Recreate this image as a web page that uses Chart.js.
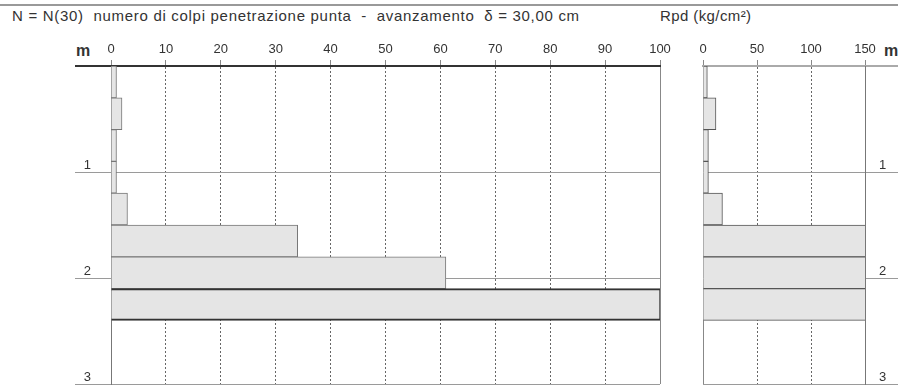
<!DOCTYPE html>
<html>
<head>
<meta charset="utf-8">
<script src="https://cdn.jsdelivr.net/npm/chart.js@4"></script>
<style>
  body { margin: 0; background: #fff; font-family: "Liberation Sans", Arial, sans-serif; color: #333; }
  #wrap { position: relative; width: 898px; height: 387px; overflow: hidden; }
  .lbl { position: absolute; white-space: nowrap; }
  #topRule { position: absolute; left: 0; top: 4px; width: 898px; border-top: 2px solid #999; }
  #chartN { position: absolute; left: 0; top: 0; }
  #chartR { position: absolute; left: 680px; top: 0; }
</style>
</head>
<body>
<div id="wrap">
  <div id="topRule"></div>
  <div class="lbl" style="left:12px; top:7px; font-size:15px; letter-spacing:0.7px;">N = N(30)&nbsp; numero di colpi penetrazione punta&nbsp; -&nbsp; avanzamento&nbsp; δ = 30,00 cm</div>
  <div class="lbl" style="left:660px; top:7px; font-size:15px; letter-spacing:0.4px;">Rpd (kg/cm²)</div>
  <div class="lbl" style="left:76px; top:42px; font-size:16px; font-weight:bold;">m</div>
  <div class="lbl" style="left:884px; top:42px; font-size:16px; font-weight:bold;">m</div>
  <canvas id="chartN" width="680" height="387" style="width:680px;height:387px"></canvas>
  <canvas id="chartR" width="218" height="387" style="width:218px;height:387px"></canvas>
</div>
<script>
// depth steps of 30 cm, top of each step in metres
const depthSteps = ['0,0', '0,3', '0,6', '0,9', '1,2', '1,5', '1,8', '2,1', '2,4', '2,7'];
// number of blows N(30) for each step
const blowsN = [1, 2, 1, 1, 3, 34, 61, 100, null, null];
// dynamic point resistance Rpd (kg/cm2) for each step
const rpdValues = [4, 12, 5, 5, 18, 200, 350, 560, null, null];

const nMax = 100;
const rpdMax = 150;
const depthMax = 3;

Chart.defaults.font.family = '"Liberation Sans", Arial, sans-serif';
Chart.defaults.font.size = 13;
Chart.defaults.color = '#333';

function depthAxis(position, width, tickLen, pad, topColor) {
  return {
    type: 'linear',
    position: position,
    min: 0,
    max: depthMax,
    reverse: true,
    offset: false,
    afterFit: s => { s.width = width; },
    ticks: {
      stepSize: 1,
      padding: pad,
      labelOffset: -7,
      callback: v => v === 0 ? '' : v
    },
    grid: {
      offset: false,
      tickLength: tickLen,
      color: ctx => ctx.tick && ctx.tick.value === 0 ? topColor : '#9a9a9a',
      lineWidth: ctx => ctx.tick && ctx.tick.value === 0 ? 2 : 1
    },
    border: { display: true, color: '#777', width: 1 }
  };
}

function valueAxis(max, step, topColor) {
  const edge = v => v === 0 || v === max;
  return {
    type: 'linear',
    position: 'top',
    min: 0,
    max: max,
    afterFit: s => { s.height = 66; },
    ticks: { stepSize: step, padding: 3, maxRotation: 0, autoSkip: false },
    grid: {
      tickLength: 6,
      color: ctx => ctx.tick && edge(ctx.tick.value) ? '#888' : '#666',
      tickColor: '#888'
    },
    border: {
      display: true, color: topColor, width: 2,
      dash: ctx => ctx.tick && !edge(ctx.tick.value) ? [2, 2] : []
    }
  };
}

function barStyle(limit, lineColor) {
  return {
    backgroundColor: '#e5e5e5',
    borderColor: ctx => (ctx.raw >= limit ? '#333' : lineColor),
    borderWidth: ctx => (ctx.raw >= limit ? { top: 2, bottom: 2, right: 1, left: 0 } : 1),
    borderSkipped: 'start',
    categoryPercentage: 1,
    barPercentage: 1,
    clip: 0
  };
}

new Chart(document.getElementById('chartN'), {
  type: 'bar',
  data: {
    labels: depthSteps,
    datasets: [Object.assign({ label: 'N(30)', data: blowsN }, barStyle(nMax, '#777'))]
  },
  options: {
    indexAxis: 'y',
    responsive: false,
    animation: false,
    layout: { padding: { left: 0, right: 20, top: 0, bottom: 3 } },
    plugins: { legend: { display: false }, tooltip: { enabled: false } },
    scales: {
      x: valueAxis(nMax, 10, '#333'),
      y: { type: 'category', display: false },
      depth: depthAxis('left', 111, 36, -16, '#333')
    }
  }
});

new Chart(document.getElementById('chartR'), {
  type: 'bar',
  data: {
    labels: depthSteps,
    datasets: [Object.assign({ label: 'Rpd', data: rpdValues }, barStyle(100000, '#555'))]
  },
  options: {
    indexAxis: 'y',
    responsive: false,
    animation: false,
    layout: { padding: { left: 23, right: 0, top: 0, bottom: 3 } },
    plugins: { legend: { display: false }, tooltip: { enabled: false } },
    scales: {
      x: valueAxis(rpdMax, 50, '#aaa'),
      y: { type: 'category', display: false },
      depth: depthAxis('right', 33, 33, -19, '#aaa')
    }
  }
});
</script>
</body>
</html>
